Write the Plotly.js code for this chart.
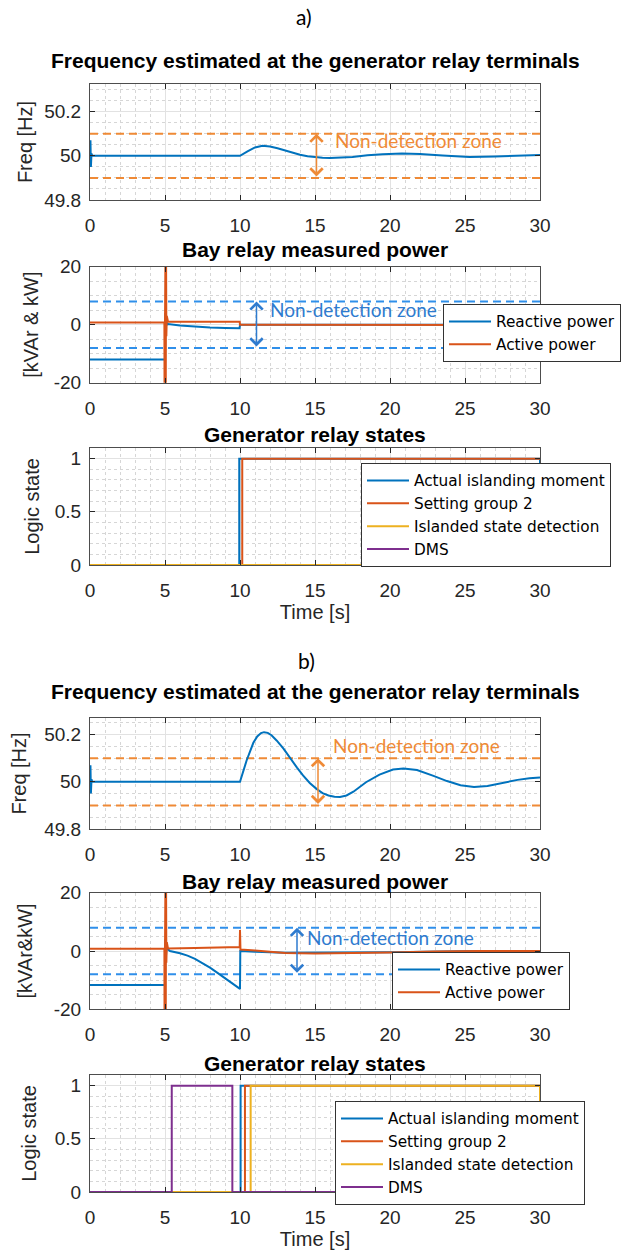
<!DOCTYPE html>
<html><head><meta charset="utf-8">
<script src="https://cdn.plot.ly/plotly-3.0.1.min.js"></script>
<style>html,body{margin:0;padding:0;background:#fff}#chart{width:627px;height:1250px}</style>
</head><body><div id="chart"></div>
<script>
// ---------- data ----------
const xTicks = [0, 5, 10, 15, 20, 25, 30];
const freqTicks = [49.8, 50, 50.2];
const freqTickText = ['49.8', '50', '50.2'];
const powerTicks = [-20, 0, 20];
const stateTicks = [0, 0.5, 1];
const stateTickText = ['0', '0.5', '1'];

const ndzFreq = [49.9, 50.1];
const ndzPower = [-8, 8];
const ndzTime = [0, 30];

// a) frequency
const timeFreqA = [0, 0.03, 0.06, 0.1, 0.15, 10, 10.5, 11, 11.5, 12, 12.5, 13, 13.5, 14, 14.5, 15, 15.5, 16, 16.6, 17.5, 18.5, 19.5, 20.8, 22, 23.5, 25.3, 27, 28.5, 30];
const freqA = [50, 50.07, 49.95, 50.01, 50, 50, 50.02, 50.038, 50.045, 50.042, 50.034, 50.024, 50.014, 50.005, 49.998, 49.994, 49.991, 49.99, 49.991, 49.995, 50.002, 50.007, 50.01, 50.008, 50.001, 49.995, 49.997, 50.002, 50.004];
// b) frequency
const timeFreqB = [0, 0.03, 0.06, 0.1, 0.15, 10, 10.44, 10.89, 11.15, 11.4, 11.6, 11.85, 12.1, 12.44, 12.9, 13.33, 13.8, 14.2, 14.65, 15.1, 15.5, 15.9, 16.3, 16.67, 17.1, 17.56, 18.4, 19.3, 20.2, 20.9, 21.8, 22.9, 23.8, 24.7, 25.6, 26.5, 27.5, 28.5, 29.3, 30];
const freqB = [50, 50.07, 49.95, 50.01, 50, 50, 50.09, 50.165, 50.192, 50.206, 50.21, 50.207, 50.197, 50.175, 50.14, 50.1, 50.06, 50.027, 49.995, 49.97, 49.952, 49.942, 49.937, 49.936, 49.942, 49.958, 49.998, 50.03, 50.052, 50.056, 50.05, 50.025, 50.003, 49.985, 49.978, 49.982, 49.995, 50.008, 50.015, 50.018];

// a) power
const timeQA = [0, 5, 5.02, 5.05, 5.08, 5.12, 5.2, 6, 7, 8, 9, 9.97, 10, 30];
const reactiveA = [-12, -12, 4, -3, 1.5, 0, 0.2, -0.3, -0.7, -1.0, -1.15, -1.25, 0, 0];
const timePA = [0, 4.96, 4.97, 4.99, 5.01, 5.03, 5.05, 5.07, 5.09, 5.12, 5.2, 9.98, 10.0, 30];
const activeA = [0.8, 0.8, -25, 25, -25, 25, -25, 25, -4, 3, 1, 1, 0, -0.1];
// b) power
const timeQB = [0, 5, 5.02, 5.05, 5.1, 5.33, 6, 6.5, 7, 7.5, 8, 8.5, 9, 9.5, 10, 10.02, 11, 13, 15, 20, 25, 30];
const reactiveB = [-11.7, -11.7, 4, -3, 1, 0, -0.8, -1.6, -2.7, -4.1, -5.7, -7.5, -9.3, -11.2, -13, 0, -0.3, -0.6, -0.6, -0.4, -0.1, 0];
const timePB = [0, 4.96, 4.97, 4.99, 5.01, 5.03, 5.05, 5.07, 5.09, 5.12, 5.2, 7, 9, 9.98, 10.0, 10.03, 11, 12, 13, 15, 17, 20, 23, 26, 30];
const activeB = [0.8, 0.8, -25, 25, -25, 25, -25, 25, -4, 3, 0.9, 1.0, 1.2, 1.4, 7.2, 0.5, 0.2, -0.3, -0.7, -0.9, -0.8, -0.5, -0.2, 0, 0];

// a) states
const timeIslandA = [0, 9.95, 9.95, 30, 30];
const islandA = [0, 0, 1, 1, 0];
const timeSg2A = [0, 10.15, 10.15, 30];
const sg2A = [0, 0, 1, 1];
const timeDetA = [0, 30];
const detA = [0, 0];
const timeDmsA = [0, 30];
const dmsA = [0, 0];
// b) states
const timeIslandB = [0, 10.04, 10.04, 30];
const islandB = [0, 0, 1, 1];
const timeSg2B = [0, 10.33, 10.33, 30];
const sg2B = [0, 0, 1, 1];
const timeDetB = [0, 10.71, 10.71, 30, 30];
const detB = [0, 0, 1, 1, 0];
const timeDmsB = [0, 5.45, 5.45, 9.49, 9.49, 30];
const dmsB = [0, 0, 1, 1, 0, 0];

// ---------- styling ----------
const C_BLUE = '#0072BD', C_ORANGE = '#D95319', C_YELLOW = '#EDB120', C_PURPLE = '#7E2F8E';
const NDZ_ORANGE = '#EF8A36', NDZ_BLUE_DASH = '#2F8FEA', NDZ_BLUE = '#2E7BCF';
const FONT = 'Liberation Sans, Arial, sans-serif';
const LEGFONT = 'DejaVu Sans, Liberation Sans, sans-serif';
const CAL = 'Lato, Carlito, sans-serif';
const LW = 2;

function line(x, y, color, xa, ya, extra) {
  return Object.assign({type: 'scatter', mode: 'lines', x: x, y: y, xaxis: xa, yaxis: ya,
    line: {color: color, width: LW}, showlegend: false, hoverinfo: 'skip'}, extra || {});
}
function dash(x, yv, color, xa, ya) {
  return line(x, [yv, yv], color, xa, ya, {line: {color: color, width: 2, dash: '8px,5px'}});
}

const traces = [
  // panel 1
  dash(ndzTime, ndzFreq[0], NDZ_ORANGE, 'x', 'y'),
  dash(ndzTime, ndzFreq[1], NDZ_ORANGE, 'x', 'y'),
  line(timeFreqA, freqA, C_BLUE, 'x', 'y'),
  // panel 2
  dash(ndzTime, ndzPower[0], NDZ_BLUE_DASH, 'x2', 'y2'),
  dash(ndzTime, ndzPower[1], NDZ_BLUE_DASH, 'x2', 'y2'),
  line(timeQA, reactiveA, C_BLUE, 'x2', 'y2', {name: 'Reactive power', showlegend: true, legend: 'legend'}),
  line(timePA, activeA, C_ORANGE, 'x2', 'y2', {name: 'Active power', showlegend: true, legend: 'legend'}),
  // panel 3
  line(timeIslandA, islandA, C_BLUE, 'x3', 'y3', {name: 'Actual islanding moment', showlegend: true, legend: 'legend2', legendrank: 1}),
  line(timeSg2A, sg2A, C_ORANGE, 'x3', 'y3', {name: 'Setting group 2', showlegend: true, legend: 'legend2', legendrank: 2}),
  line(timeDmsA, dmsA, C_PURPLE, 'x3', 'y3', {name: 'DMS', showlegend: true, legend: 'legend2', legendrank: 4}),
  line(timeDetA, detA, C_YELLOW, 'x3', 'y3', {name: 'Islanded state detection', showlegend: true, legend: 'legend2', legendrank: 3}),
  // panel 4
  dash(ndzTime, ndzFreq[0], NDZ_ORANGE, 'x4', 'y4'),
  dash(ndzTime, ndzFreq[1], NDZ_ORANGE, 'x4', 'y4'),
  line(timeFreqB, freqB, C_BLUE, 'x4', 'y4'),
  // panel 5
  dash(ndzTime, ndzPower[0], NDZ_BLUE_DASH, 'x5', 'y5'),
  dash(ndzTime, ndzPower[1], NDZ_BLUE_DASH, 'x5', 'y5'),
  line(timeQB, reactiveB, C_BLUE, 'x5', 'y5', {name: 'Reactive power', showlegend: true, legend: 'legend3'}),
  line(timePB, activeB, C_ORANGE, 'x5', 'y5', {name: 'Active power', showlegend: true, legend: 'legend3'}),
  // panel 6
  line(timeIslandB, islandB, C_BLUE, 'x6', 'y6', {name: 'Actual islanding moment', showlegend: true, legend: 'legend4', legendrank: 1}),
  line(timeSg2B, sg2B, C_ORANGE, 'x6', 'y6', {name: 'Setting group 2', showlegend: true, legend: 'legend4', legendrank: 2}),
  line(timeDetB, detB, C_YELLOW, 'x6', 'y6', {name: 'Islanded state detection', showlegend: true, legend: 'legend4', legendrank: 3}),
  line(timeDmsB, dmsB, C_PURPLE, 'x6', 'y6', {name: 'DMS', showlegend: true, legend: 'legend4', legendrank: 4})
];

const H = 1250;
const py = p => 1 - p / H;

function xAxis(anchor, withTitle) {
  const a = {
    anchor: anchor, domain: [0, 1], range: [0, 30], tickmode: 'array', tickvals: xTicks,
    ticktext: xTicks.map(String), ticks: 'inside', ticklen: 5, tickwidth: 1, tickcolor: '#262626',
    showline: true, linecolor: '#4d4d4d', linewidth: 1, mirror: 'ticks',
    showgrid: true, gridcolor: '#e2e2e2', gridwidth: 1, zeroline: false,
    minor: {dtick: 1, tick0: 0, showgrid: true, gridcolor: '#d6d6d6', griddash: 'dot', gridwidth: 1},
    tickfont: {family: FONT, size: 19, color: '#262626'}, ticklabelstandoff: 8, fixedrange: true
  };
  if (withTitle) a.title = {text: 'Time [s]', font: {family: FONT, size: 20, color: '#262626'}, standoff: 4};
  return a;
}
function yAxis(anchor, dom, range, vals, text, minorStep, title, standoff) {
  return {
    anchor: anchor, domain: dom, range: range, tickmode: 'array', tickvals: vals, ticktext: text,
    ticks: 'inside', ticklen: 5, tickwidth: 1, tickcolor: '#262626',
    showline: true, linecolor: '#4d4d4d', linewidth: 1, mirror: 'ticks',
    showgrid: true, gridcolor: '#e2e2e2', gridwidth: 1, zeroline: false,
    minor: {dtick: minorStep, tick0: range[0], showgrid: true, gridcolor: '#d6d6d6', griddash: 'dot', gridwidth: 1},
    tickfont: {family: FONT, size: 19, color: '#262626'}, ticklabelstandoff: 4, fixedrange: true,
    title: {text: title, font: {family: FONT, size: 20, color: '#262626'}, standoff: standoff}
  };
}

function subTitle(text, yPix) {
  return {xref: 'paper', yref: 'paper', x: 0.5, y: py(yPix), xanchor: 'center', yanchor: 'middle',
    text: '<b>' + text + '</b>', showarrow: false, font: {family: FONT, size: 21, color: '#000'}};
}
function ndzText(xa, ya, x, y, color) {
  return {xref: xa, yref: ya, x: x, y: y, xanchor: 'left', yanchor: 'middle', text: 'Non-detection zone',
    showarrow: false, font: {family: CAL, size: 19, color: color}};
}
function ndzArrow(xa, ya, x, y0, y1, color) {
  return {xref: xa, yref: ya, axref: xa, ayref: ya, x: x, y: y1, ax: x, ay: y0, text: '',
    showarrow: true, arrowside: 'end+start', arrowhead: 4, startarrowhead: 4, arrowsize: 1.6,
    startarrowsize: 1.6, arrowwidth: 1.5, arrowcolor: color, standoff: 0, startstandoff: 0};
}
function legendBox(xPix, yPix) {
  return {x: (xPix - 90) / 450, y: py(yPix), xanchor: 'left', yanchor: 'top', bgcolor: '#fff',
    bordercolor: '#333', borderwidth: 1, font: {family: LEGFONT, size: 15.3, color: '#000'},
    tracegroupgap: 0, traceorder: 'normal', itemwidth: 42};
}

const layout = {
  width: 627, height: 1250, margin: {l: 90, r: 87, t: 0, b: 0},
  paper_bgcolor: '#fff', plot_bgcolor: '#fff', showlegend: true,
  xaxis: xAxis('y', false),
  xaxis2: xAxis('y2', false),
  xaxis3: xAxis('y3', true),
  xaxis4: xAxis('y4', false),
  xaxis5: xAxis('y5', false),
  xaxis6: xAxis('y6', true),
  yaxis: yAxis('x', [py(200), py(84)], [49.8, 50.325], freqTicks, freqTickText, 0.05, 'Freq [Hz]', 6),
  yaxis2: yAxis('x2', [py(382.7), py(266.7)], [-20, 20], powerTicks, powerTicks.map(String), 5, '[kVAr & kW]', 9),
  yaxis3: yAxis('x3', [py(565), py(448)], [0, 1.1], stateTicks, stateTickText, 0.1, 'Logic state', 9),
  yaxis4: yAxis('x4', [py(829), py(718)], [49.8, 50.27], freqTicks, freqTickText, 0.05, 'Freq [Hz]', 12),
  yaxis5: yAxis('x5', [py(1009.3), py(892.7)], [-20, 20], powerTicks, powerTicks.map(String), 5, '[kVAr&kW]', 15),
  yaxis6: yAxis('x6', [py(1192), py(1075)], [0, 1.1], stateTicks, stateTickText, 0.1, 'Logic state', 12),
  legend: legendBox(443, 304),
  legend2: legendBox(361, 463),
  legend3: legendBox(392, 952),
  legend4: legendBox(335, 1101),
  annotations: [
    {xref: 'paper', yref: 'paper', x: (304 - 90) / 450, y: py(17), xanchor: 'center', yanchor: 'middle',
      text: 'a)', showarrow: false, font: {family: CAL, size: 21, color: '#000'}},
    {xref: 'paper', yref: 'paper', x: (306 - 90) / 450, y: py(660), xanchor: 'center', yanchor: 'middle',
      text: 'b)', showarrow: false, font: {family: CAL, size: 21, color: '#000'}},
    subTitle('Frequency estimated at the generator relay terminals', 60.7),
    subTitle('Bay relay measured power', 250),
    subTitle('Generator relay states', 435),
    subTitle('Frequency estimated at the generator relay terminals', 691.7),
    subTitle('Bay relay measured power', 881.7),
    subTitle('Generator relay states', 1063.3),
    ndzText('x', 'y', 16.17, 50.0715, NDZ_ORANGE),
    ndzArrow('x', 'y', 15.1, ndzFreq[0], ndzFreq[1], NDZ_ORANGE),
    ndzText('x2', 'y2', 11.87, 5.4, NDZ_BLUE),
    ndzArrow('x2', 'y2', 11.1, ndzPower[0], ndzPower[1], NDZ_BLUE),
    ndzText('x4', 'y4', 16.07, 50.153, NDZ_ORANGE),
    ndzArrow('x4', 'y4', 15.2, ndzFreq[0], ndzFreq[1], NDZ_ORANGE),
    ndzText('x5', 'y5', 14.33, 4.7, NDZ_BLUE),
    ndzArrow('x5', 'y5', 13.8, ndzPower[0], ndzPower[1], NDZ_BLUE)
  ]
};

Plotly.newPlot('chart', traces, layout, {displayModeBar: false, staticPlot: true});
</script></body></html>
